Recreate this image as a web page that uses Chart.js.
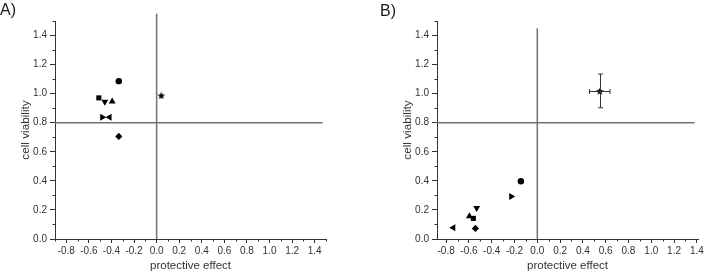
<!DOCTYPE html>
<html><head><meta charset="utf-8">
<script src="https://cdn.jsdelivr.net/npm/chart.js@4"></script>
<style>
html,body{margin:0;padding:0;background:#fff;width:709px;height:274px;overflow:hidden}
.panel{position:absolute;top:0;height:274px}
.panel canvas{display:block}
.lab{position:absolute;font-family:'Liberation Sans',Arial,sans-serif;font-size:16px;line-height:16px;color:#1a1a1a}
</style></head><body>
<div class="panel" style="left:0;width:354px"><canvas id="cA" width="354" height="274"></canvas><div class="lab" style="left:0;top:2px">A)</div></div>
<div class="panel" style="left:354px;width:355px"><canvas id="cB" width="355" height="274"></canvas><div class="lab" style="left:26px;top:3px">B)</div></div>
<script>
// ---- data ----
const compounds = ['1','2','3','4','5','6','7','8'];
const markerStyles = ['circle','rect','triangleDown','triangle','triangleRight','triangleLeft','rectRot','star'];
const effectA    = [-0.335, -0.512, -0.459, -0.394, -0.482, -0.417, -0.335, 0.041];
const viabilityA = [ 1.086,  0.971,  0.944,  0.946,  0.838,  0.838,  0.706, 0.988];
const effectB    = [-0.144, -0.561, -0.532, -0.596, -0.229, -0.737, -0.543, 0.548];
const viabilityB = [ 0.397,  0.142,  0.213,  0.156,  0.293,  0.078,  0.073, 1.019];
const effectErrB    = [0, 0, 0, 0, 0, 0, 0, 0.09];
const viabilityErrB = [0, 0, 0, 0, 0, 0, 0, 0.116];
const cutoffEffect = 0;
const cutoffViability = 0.8;
const vLineSpanA = [0, 1.55];
const hLineSpanA = [-0.9, 1.47];
const vLineSpanB = [0, 1.45];
const hLineSpanB = [-0.88, 1.38];
const xRangeA = [-0.9, 1.5];
const xRangeB = [-0.88, 1.41];
const yRange = [0, 1.5];
const majorStep = 0.2, minorStep = 0.1;
const xTitle = 'protective effect';
const yTitle = 'cell viability';

// ---- helpers ----
const FONT = "'Liberation Sans', Arial, sans-serif";
const AXIS = '#333';
function isMajor(v){ const n = v/majorStep; return Math.abs(n-Math.round(n)) < 1e-6; }
function isMinor(v){ const n = v/minorStep; return Math.abs(n-Math.round(n)) < 1e-6 && !isMajor(v); }
function fmt(v){ if(!isMajor(v)) return ''; if(Math.abs(v)<1e-9) return '0.0'; return v.toFixed(1); }

function starCanvas(size){
  const c=document.createElement('canvas'); c.width=c.height=size;
  const g=c.getContext('2d'); g.fillStyle='#000'; g.beginPath();
  const cx=size/2, cy=size/2+0.4, R=size/2, r=R*0.45;
  for(let i=0;i<10;i++){ const a=-Math.PI/2+i*Math.PI/5; const rr=i%2?r:R; g.lineTo(cx+rr*Math.cos(a), cy+rr*Math.sin(a)); }
  g.closePath(); g.fill(); return c;
}
const STAR = starCanvas(8);
function markerProps(name){
  switch(name){
    case 'circle': return {pointStyle:'circle', pointRotation:0, pointRadius:3.2};
    case 'rect': return {pointStyle:'rect', pointRotation:0, pointRadius:3.6};
    case 'triangle': return {pointStyle:'triangle', pointRotation:0, pointRadius:4};
    case 'triangleDown': return {pointStyle:'triangle', pointRotation:180, pointRadius:4};
    case 'triangleRight': return {pointStyle:'triangle', pointRotation:90, pointRadius:4};
    case 'triangleLeft': return {pointStyle:'triangle', pointRotation:270, pointRadius:4};
    case 'rectRot': return {pointStyle:'rectRot', pointRotation:0, pointRadius:3.6};
    case 'star': return {pointStyle:STAR, pointRotation:0, pointRadius:4};
  }
}

const errorBars = { id:'errorBars', afterDatasetsDraw(chart){
  const {ctx, scales:{x,y}} = chart; ctx.save(); ctx.strokeStyle=AXIS; ctx.lineWidth=1;
  chart.data.datasets.forEach(ds=>{
    if(!ds.errX) return;
    ds.data.forEach((p,k)=>{
      const ex=ds.errX[k]||0, ey=ds.errY[k]||0;
      const px=Math.round(x.getPixelForValue(p.x))+0.5, py=Math.round(y.getPixelForValue(p.y))+0.5;
      ctx.beginPath();
      if(ex){ const l=x.getPixelForValue(p.x-ex), r=x.getPixelForValue(p.x+ex);
        ctx.moveTo(l,py); ctx.lineTo(r,py);
        ctx.moveTo(l,py-2.5); ctx.lineTo(l,py+2.5); ctx.moveTo(r,py-2.5); ctx.lineTo(r,py+2.5); }
      if(ey){ const t=y.getPixelForValue(p.y+ey), b=y.getPixelForValue(p.y-ey);
        ctx.moveTo(px,t); ctx.lineTo(px,b);
        ctx.moveTo(px-2.5,t); ctx.lineTo(px+2.5,t); ctx.moveTo(px-2.5,b); ctx.lineTo(px+2.5,b); }
      ctx.stroke();
    });
  });
  ctx.restore();
}};

const minorTicks = { id:'minorTicks', afterDraw(chart){
  const {ctx, chartArea:a, scales:{x,y}} = chart; ctx.save(); ctx.strokeStyle=AXIS; ctx.lineWidth=1; ctx.beginPath();
  x.ticks.forEach(t=>{ if(isMinor(t.value)){ const px=Math.round(x.getPixelForValue(t.value))+0.5; ctx.moveTo(px,a.bottom); ctx.lineTo(px,a.bottom+2.5);} });
  y.ticks.forEach(t=>{ if(isMinor(t.value)){ const py=Math.round(y.getPixelForValue(t.value))+0.5; ctx.moveTo(a.left,py); ctx.lineTo(a.left-2.5,py);} });
  ctx.stroke(); ctx.restore();
}};

function makeChart(id, effect, viability, errX, errY, xRange, vSpan, hSpan, yAxisWidth, rightPad, yTitlePad){
  const datasets = compounds.map((c,i)=>Object.assign({
    label: 'compound '+c,
    data: [{x:effect[i], y:viability[i]}],
    backgroundColor:'#000', borderColor:'#000', borderWidth:0,
    errX: errX ? [errX[i]] : null, errY: errY ? [errY[i]] : null
  }, markerProps(markerStyles[i])));
  datasets.push({label:'cutoff x', data:[{x:cutoffEffect,y:vSpan[0]},{x:cutoffEffect,y:vSpan[1]}], showLine:true, pointRadius:0, borderColor:'#727272', borderWidth:1.5, clip:false});
  datasets.push({label:'cutoff y', data:[{x:hSpan[0],y:cutoffViability},{x:hSpan[1],y:cutoffViability}], showLine:true, pointRadius:0, borderColor:'#727272', borderWidth:1.5, clip:false});
  const tickCol = ctx => isMajor(ctx.tick.value) ? AXIS : 'rgba(0,0,0,0)';
  return new Chart(document.getElementById(id), {
    type:'scatter',
    data:{datasets},
    options:{
      responsive:false, animation:false, events:[],
      layout:{padding:{top:21, right:rightPad, bottom:0, left:0}},
      plugins:{legend:{display:false}, tooltip:{enabled:false}},
      scales:{
        x:{type:'linear', min:xRange[0], max:xRange[1],
          afterFit(s){ s.height = 35; },
          border:{display:true, color:AXIS, width:1},
          grid:{drawOnChartArea:false, drawTicks:true, tickLength:4, tickColor:tickCol, tickWidth:1},
          ticks:{stepSize:minorStep, includeBounds:false, autoSkip:false, maxRotation:0, minRotation:0, padding:2, color:AXIS, font:{family:FONT, size:10}, callback:v=>fmt(v)},
          title:{display:true, text:xTitle, color:AXIS, font:{family:FONT, size:11.5}, padding:{top:0, bottom:1}}
        },
        y:{type:'linear', min:yRange[0], max:yRange[1],
          afterFit(s){ s.width = yAxisWidth; },
          border:{display:true, color:AXIS, width:1},
          grid:{drawOnChartArea:false, drawTicks:true, tickLength:5, tickColor:tickCol, tickWidth:1},
          ticks:{stepSize:minorStep, includeBounds:false, autoSkip:false, padding:3, color:AXIS, font:{family:FONT, size:10}, callback:v=>fmt(v)},
          title:{display:true, text:yTitle, color:AXIS, font:{family:FONT, size:11.75}, padding:{top:yTitlePad, bottom:0}}
        }
      }
    },
    plugins:[errorBars, minorTicks]
  });
}

makeChart('cA', effectA, viabilityA, null, null, xRangeA, vLineSpanA, hLineSpanA, 55, 28, 19);
makeChart('cB', effectB, viabilityB, effectErrB, viabilityErrB, xRangeB, vLineSpanB, hLineSpanB, 83, 11, 46.5);
</script>
</body></html>
